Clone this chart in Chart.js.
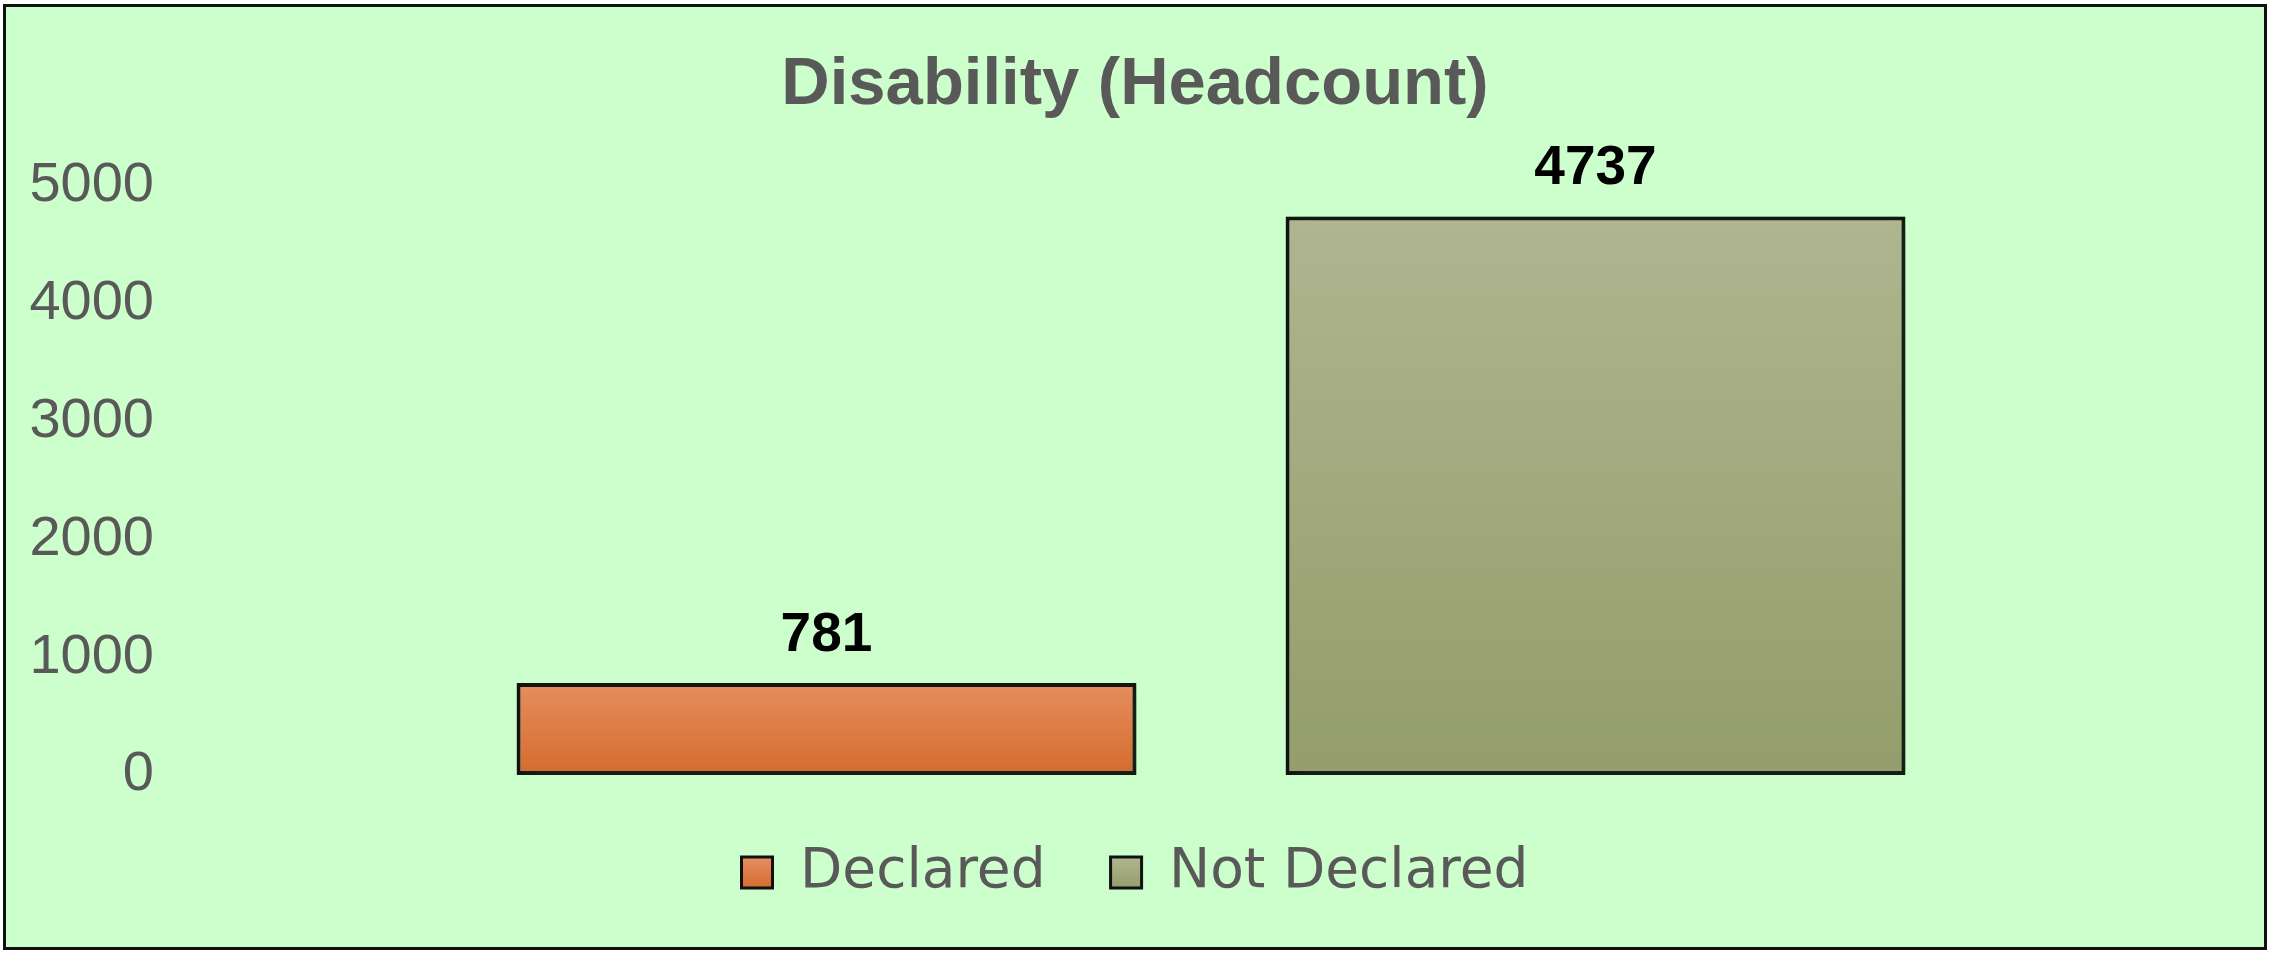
<!DOCTYPE html>
<html>
<head>
<meta charset="utf-8">
<script src="https://cdn.jsdelivr.net/npm/chart.js@4/dist/chart.umd.min.js"></script>
<style>
  html, body { margin: 0; padding: 0; background: #ffffff; }
  #frame {
    position: absolute; left: 3px; top: 4px;
    width: 2264px; height: 946px; box-sizing: border-box;
    border: 3px solid #111111; background: #ccffcc;
  }
  #chart { display: block; }
</style>
</head>
<body>
<div id="frame"><canvas id="chart" width="2258" height="940"></canvas></div>
<script>
"use strict"

// data
var categories = ["Declared", "Not Declared"]
var headcount = [781, 4737]
var yTicks = [0, 1000, 2000, 3000, 4000, 5000]

// top / bottom colours of each bar's gradient
var topColors = ["#e58e60", "#afb58f"]
var bottomColors = ["#d56b2d", "#949d6b"]

function barGradient(ctx, i, top, bottom) {
    if (!isFinite(top) || !isFinite(bottom) || top === bottom) return topColors[i]
    var g = ctx.createLinearGradient(0, top, 0, bottom)
    g.addColorStop(0, topColors[i])
    g.addColorStop(1, bottomColors[i])
    return g
}

// value labels above each bar
var valueLabels = {
    id: "valueLabels",
    afterDatasetsDraw(chart) {
        var ctx = chart.ctx
        var meta = chart.getDatasetMeta(0)
        ctx.save()
        ctx.font = "bold 55px 'Liberation Sans', Arial, sans-serif"
        ctx.fillStyle = "#000000"
        ctx.textAlign = "center"
        ctx.textBaseline = "alphabetic"
        meta.data.forEach(function (bar, i) {
            ctx.fillText(String(headcount[i]), bar.x, bar.y - 32)
        })
        ctx.restore()
    }
}

// soft shadow behind bars
var barShadow = {
    id: "barShadow",
    beforeDatasetsDraw(chart) {
        var ctx = chart.ctx
        ctx.save()
        ctx.shadowColor = "rgba(30, 60, 30, 0.55)"
        ctx.shadowBlur = 14
        ctx.shadowOffsetX = 6
        ctx.shadowOffsetY = 3
    },
    afterDatasetsDraw(chart) {
        chart.ctx.restore()
    }
}

var chart = document.getElementById("chart")

var newChart = new Chart(chart, {
    type: "bar",
    data: {
        labels: categories,
        datasets: [{
            label: "Disability (Headcount)",
            data: headcount,
            backgroundColor: function (c) {
                var i = c.dataIndex || 0
                var ch = c.chart
                if (!ch.chartArea || !ch.scales.y) return topColors[i]
                var y = ch.scales.y
                return barGradient(ch.ctx, i, y.getPixelForValue(headcount[i]), y.getPixelForValue(0))
            },
            borderColor: "#111111",
            borderWidth: 4,
            borderSkipped: false,
            categoryPercentage: 1,
            barPercentage: 0.806
        }]
    },
    options: {
        responsive: false,
        animation: false,
        layout: {padding: {left: 0, right: 0, top: 0, bottom: 37}},
        plugins: {
            title: {
                display: true,
                text: "Disability (Headcount)",
                color: "#595959",
                font: {family: "'Liberation Sans', Arial, sans-serif", size: 67, weight: "bold", lineHeight: 1.2},
                padding: {top: 38, bottom: 60}
            },
            legend: {
                position: "bottom",
                labels: {
                    color: "#595959",
                    font: {family: "'DejaVu Sans', sans-serif", size: 55},
                    boxWidth: 31,
                    boxHeight: 31,
                    padding: 65,
                    generateLabels: function (ch) {
                        return categories.map(function (name, i) {
                            return {
                                text: name,
                                fillStyle: barGradient(ch.ctx, i, 851, 882),
                                strokeStyle: "#111111",
                                lineWidth: 3,
                                fontColor: "#595959",
                                index: i
                            }
                        })
                    }
                }
            },
            tooltip: {enabled: false}
        },
        scales: {
            x: {
                grid: {display: false, drawTicks: false},
                border: {display: false},
                ticks: {display: false},
                afterFit: function (s) { s.height = 5 }
            },
            y: {
                min: yTicks[0],
                max: yTicks[yTicks.length - 1],
                grid: {display: false, drawTicks: false},
                border: {display: false},
                ticks: {
                    stepSize: 1000,
                    padding: 288,
                    color: "#595959",
                    font: {family: "'Liberation Sans', Arial, sans-serif", size: 56},
                    callback: function (v) { return String(v) }
                },
                afterFit: function (s) {
                    s.width = 436
                    s.paddingTop = 0
                    s.paddingBottom = 0
                }
            },
            // empty space to the right of the bars
            spacer: {
                position: "right",
                grid: {display: false, drawTicks: false},
                border: {display: false},
                ticks: {display: false},
                afterFit: function (s) {
                    s.width = 284
                    s.paddingTop = 0
                    s.paddingBottom = 0
                }
            }
        }
    },
    plugins: [barShadow, valueLabels]
})
</script>
</body>
</html>
